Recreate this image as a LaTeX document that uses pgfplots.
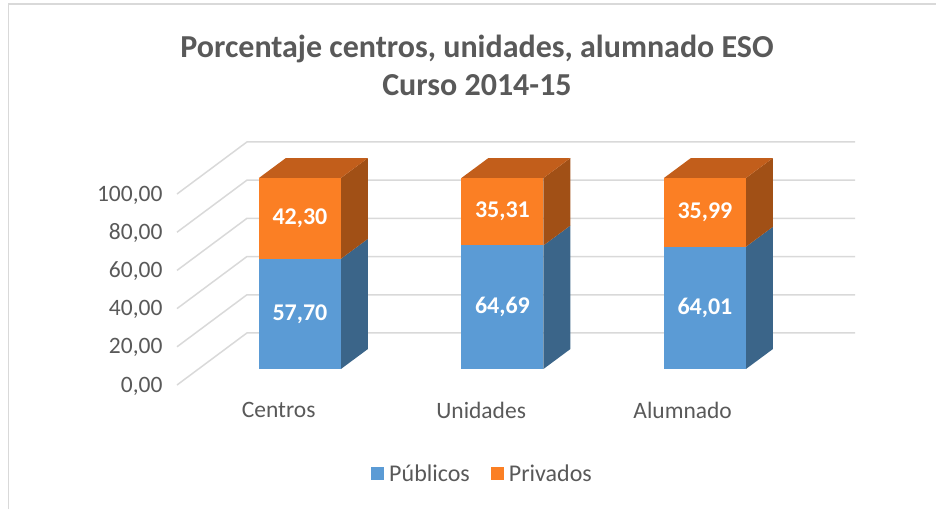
\documentclass[border=0pt]{standalone}
\usepackage{fontspec}
\setmainfont{Carlito}
\usepackage{pgfplots}
\pgfplotsset{compat=1.18}
\definecolor{pubF}{HTML}{5B9BD5}
\definecolor{pubS}{HTML}{3B6589}
\definecolor{priF}{HTML}{FB7F24}
\definecolor{priT}{HTML}{C25E1B}
\definecolor{priS}{HTML}{A15016}
\definecolor{gridc}{HTML}{D9D9D9}
\definecolor{txt}{HTML}{595959}
\begin{document}
\begin{tikzpicture}
\useasboundingbox (0,0) rectangle (936pt,509pt);
\draw[gridc, line width=1.5pt] (8.5pt,0) -- (8.5pt,505pt) -- (936pt,505pt);
\node[font=\bfseries\fontsize{32}{38}\selectfont, text=txt, align=center] at (477pt,444pt) {Porcentaje centros, unidades, alumnado ESO\\Curso 2014-15};
\begin{axis}[
  at={(177pt,124pt)}, anchor=south west,
  scale only axis, width=678pt, height=243pt,
  xmin=-0.607, xmax=2.741, ymin=-8.38, ymax=118.85,
  clip=false,
  axis line style={draw=none},
  major tick length=0pt,
  tick style={draw=none},
  xtick={-0.105,0.895,1.89},
  xticklabels={Centros,Unidades,Alumnado},
  ytick={-8.38,11.62,31.62,51.62,71.62,91.62},
  yticklabels={{0,00},{20,00},{40,00},{60,00},{80,00},{100,00}},
  /pgf/number format/assume math mode=true,
  ticklabel style={font=\fontsize{23.5}{28}\selectfont, text=txt},
  xticklabel style={yshift=-14pt},
  yticklabel style={xshift=-11pt, yshift=-1pt},
  legend style={at={(0.4506,-0.366)}, anchor=center, draw=none, fill=none,
    font=\fontsize{24}{28}\selectfont, text=txt, legend columns=2},
]
% gridlines
\addplot[forget plot, gridc, line width=1.5pt] coordinates {(-0.607,-8.38)(-0.262,18.85)(2.741,18.85)};
\addplot[forget plot, gridc, line width=1.5pt] coordinates {(-0.607,11.62)(-0.262,38.85)(2.741,38.85)};
\addplot[forget plot, gridc, line width=1.5pt] coordinates {(-0.607,31.62)(-0.262,58.85)(2.741,58.85)};
\addplot[forget plot, gridc, line width=1.5pt] coordinates {(-0.607,51.62)(-0.262,78.85)(2.741,78.85)};
\addplot[forget plot, gridc, line width=1.5pt] coordinates {(-0.607,71.62)(-0.262,98.85)(2.741,98.85)};
\addplot[forget plot, gridc, line width=1.5pt] coordinates {(-0.607,91.62)(-0.262,118.85)(2.741,118.85)};
% Centros: 57.70 / 42.30
\addplot[forget plot, fill=pubS, draw=none] coordinates {(0.2025,0)(0.3358,10.47)(0.3358,68.17)(0.2025,57.70)} -- cycle;
\addplot[forget plot, fill=pubF, draw=none] coordinates {(-0.2025,0)(0.2025,0)(0.2025,57.70)(-0.2025,57.70)} -- cycle;
\addplot[forget plot, fill=priS, draw=none] coordinates {(0.2025,57.70)(0.3358,68.17)(0.3358,110.47)(0.2025,100)} -- cycle;
\addplot[forget plot, fill=priT, draw=none] coordinates {(-0.2025,100)(0.2025,100)(0.3358,110.47)(-0.0692,110.47)} -- cycle;
\addplot[forget plot, fill=priF, draw=none] coordinates {(-0.2025,57.70)(0.2025,57.70)(0.2025,100)(-0.2025,100)} -- cycle;
% Unidades: 64.69 / 35.31
\addplot[forget plot, fill=pubS, draw=none] coordinates {(1.2025,0)(1.3358,10.47)(1.3358,75.16)(1.2025,64.69)} -- cycle;
\addplot[forget plot, fill=pubF, draw=none] coordinates {(0.7975,0)(1.2025,0)(1.2025,64.69)(0.7975,64.69)} -- cycle;
\addplot[forget plot, fill=priS, draw=none] coordinates {(1.2025,64.69)(1.3358,75.16)(1.3358,110.47)(1.2025,100)} -- cycle;
\addplot[forget plot, fill=priT, draw=none] coordinates {(0.7975,100)(1.2025,100)(1.3358,110.47)(0.9308,110.47)} -- cycle;
\addplot[forget plot, fill=priF, draw=none] coordinates {(0.7975,64.69)(1.2025,64.69)(1.2025,100)(0.7975,100)} -- cycle;
% Alumnado: 64.01 / 35.99
\addplot[forget plot, fill=pubS, draw=none] coordinates {(2.2025,0)(2.3358,10.47)(2.3358,74.48)(2.2025,64.01)} -- cycle;
\addplot[forget plot, fill=pubF, draw=none] coordinates {(1.7975,0)(2.2025,0)(2.2025,64.01)(1.7975,64.01)} -- cycle;
\addplot[forget plot, fill=priS, draw=none] coordinates {(2.2025,64.01)(2.3358,74.48)(2.3358,110.47)(2.2025,100)} -- cycle;
\addplot[forget plot, fill=priT, draw=none] coordinates {(1.7975,100)(2.2025,100)(2.3358,110.47)(1.9308,110.47)} -- cycle;
\addplot[forget plot, fill=priF, draw=none] coordinates {(1.7975,64.01)(2.2025,64.01)(2.2025,100)(1.7975,100)} -- cycle;
% data labels
\addplot[forget plot, draw=none, mark=none, nodes near coords, point meta=explicit symbolic,
  every node near coord/.style={anchor=center, font=\bfseries\fontsize{24}{28}\selectfont, text=white}]
  table[meta=lab] {
x y lab
0 28.85 57,70
0 78.85 42,30
1 32.345 64,69
1 82.345 35,31
2 32.005 64,01
2 82.005 35,99
};
\addlegendimage{legend image code/.code={\fill[pubF, draw=none] (0pt,-6.5pt) rectangle (13pt,6.5pt); \path[draw=none, fill=none] (0pt,0pt) -- (16pt,0pt);}}
\addlegendentry{Públicos\rule{19pt}{0pt}}
\addlegendimage{legend image code/.code={\fill[priF, draw=none] (0pt,-6.5pt) rectangle (13pt,6.5pt); \path[draw=none, fill=none] (0pt,0pt) -- (16pt,0pt);}}
\addlegendentry{Privados}
\end{axis}
\end{tikzpicture}
\end{document}
